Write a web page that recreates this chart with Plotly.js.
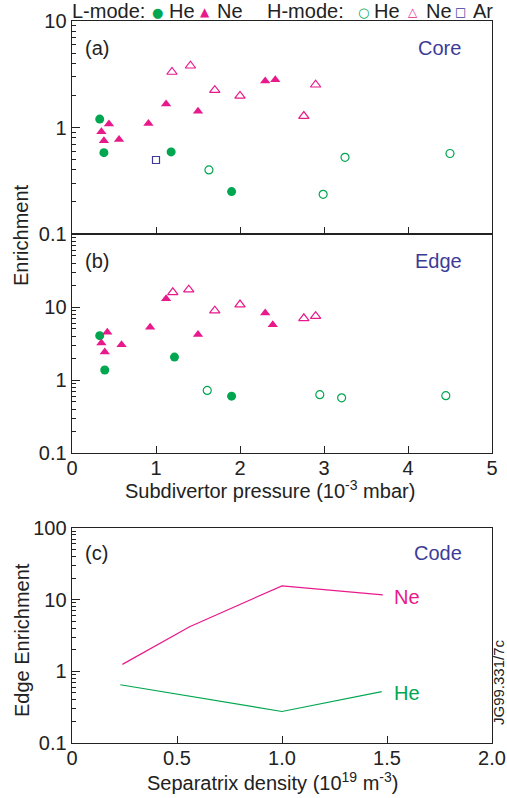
<!DOCTYPE html>
<html>
<head>
<meta charset="utf-8">
<script src="https://cdn.plot.ly/plotly-3.0.1.min.js"></script>
<style>html,body{margin:0;padding:0;background:#fff}#chart{width:507px;height:798px}</style>
</head>
<body>
<div id="chart"></div>
<script>
// ---------- DATA ----------
// Panel (a) Core enrichment vs subdivertor pressure (1e-3 mbar)
const coreLHeX = [0.33, 0.38, 1.18, 1.90];
const coreLHeY = [1.2, 0.58, 0.59, 0.25];
const coreLNeX = [0.44, 0.35, 0.38, 0.56, 0.91, 1.12, 1.50, 2.30, 2.42];
const coreLNeY = [1.08, 0.91, 0.75, 0.77, 1.09, 1.66, 1.42, 2.73, 2.81];
const coreHHeX = [1.63, 2.99, 3.25, 4.50];
const coreHHeY = [0.40, 0.236, 0.525, 0.57];
const coreHNeX = [1.19, 1.41, 1.70, 2.00, 2.76, 2.90];
const coreHNeY = [3.32, 3.8, 2.24, 1.98, 1.28, 2.52];
const coreHArX = [1.00];
const coreHArY = [0.495];

// Panel (b) Edge enrichment
const edgeLHeX = [0.33, 0.39, 1.22, 1.90];
const edgeLHeY = [4.05, 1.37, 2.06, 0.60];
const edgeLNeX = [0.42, 0.35, 0.39, 0.59, 0.93, 1.12, 1.50, 2.30, 2.39];
const edgeLNeY = [4.5, 3.2, 2.41, 3.04, 5.3, 13.0, 4.19, 8.3, 5.7];
const edgeHNeX = [1.20, 1.39, 1.70, 2.00, 2.76, 2.90];
const edgeHNeY = [15.9, 17.3, 8.9, 10.8, 7.0, 7.5];
const edgeHHeX = [1.61, 2.95, 3.21, 4.45];
const edgeHHeY = [0.72, 0.63, 0.57, 0.61];

// Panel (c) Code: edge enrichment vs separatrix density (1e19 m^-3)
const codeNeX = [0.24, 0.56, 1.00, 1.48];
const codeNeY = [1.25, 4.2, 15.6, 11.7];
const codeHeX = [0.23, 1.00, 1.475];
const codeHeY = [0.65, 0.275, 0.52];

// tick labels
const pressTicks = [0, 1, 2, 3, 4, 5];
const densTicks = [0, 0.5, 1.0, 1.5, 2.0];
const densTickText = ['0', '0.5', '1.0', '1.5', '2.0'];
const enrTicks3 = [0.1, 1, 10];
const enrTicks3Text = ['0.1', '1', '10'];
const enrTicks4 = [0.1, 1, 10, 100];
const enrTicks4Text = ['0.1', '1', '10', '100'];

// ---------- STYLE ----------
const GREEN = '#00a650';
const PINK = '#e8198b';
const BLUE = '#3c3c98';
const FRAME = '#222';
const FONT = 'Liberation Sans, Arial, sans-serif';
const W = 507, H = 798;
const px = X => X / W;
const py = Y => 1 - Y / H;

function minorVals(lo, hi) {
  const v = [];
  for (let e = lo; e < hi; e++) for (let k = 2; k <= 9; k++) v.push(k * Math.pow(10, e));
  return v;
}

const filled = (c, sym, size) => ({ color: c, symbol: sym, size: size, line: { width: 0 } });
const open = (c, sym, size) => ({ color: c, symbol: sym, size: size, line: { color: c, width: 1.2 } });

const traces = [
  // panel a
  { x: coreLHeX, y: coreLHeY, xaxis: 'x', yaxis: 'y', mode: 'markers', marker: filled(GREEN, 'circle', 9), name: 'L-mode He' },
  { x: coreLNeX, y: coreLNeY, xaxis: 'x', yaxis: 'y', mode: 'markers', marker: filled(PINK, 'triangle-up', 9), name: 'L-mode Ne' },
  { x: coreHHeX, y: coreHHeY, xaxis: 'x', yaxis: 'y', mode: 'markers', marker: open(GREEN, 'circle-open', 8), name: 'H-mode He' },
  { x: coreHNeX, y: coreHNeY, xaxis: 'x', yaxis: 'y', mode: 'markers', marker: open(PINK, 'triangle-up-open', 9), name: 'H-mode Ne' },
  { x: coreHArX, y: coreHArY, xaxis: 'x', yaxis: 'y', mode: 'markers', marker: open(BLUE, 'square-open', 7), name: 'H-mode Ar' },
  // panel b
  { x: edgeLHeX, y: edgeLHeY, xaxis: 'x2', yaxis: 'y2', mode: 'markers', marker: filled(GREEN, 'circle', 9), name: 'L-mode He' },
  { x: edgeLNeX, y: edgeLNeY, xaxis: 'x2', yaxis: 'y2', mode: 'markers', marker: filled(PINK, 'triangle-up', 9), name: 'L-mode Ne' },
  { x: edgeHHeX, y: edgeHHeY, xaxis: 'x2', yaxis: 'y2', mode: 'markers', marker: open(GREEN, 'circle-open', 8), name: 'H-mode He' },
  { x: edgeHNeX, y: edgeHNeY, xaxis: 'x2', yaxis: 'y2', mode: 'markers', marker: open(PINK, 'triangle-up-open', 9), name: 'H-mode Ne' },
  // panel c
  { x: codeNeX, y: codeNeY, xaxis: 'x3', yaxis: 'y3', mode: 'lines', line: { color: PINK, width: 1.2 }, name: 'Ne' },
  { x: codeHeX, y: codeHeY, xaxis: 'x3', yaxis: 'y3', mode: 'lines', line: { color: GREEN, width: 1.2 }, name: 'He' }
];

const xDom = [px(72), px(492)];
const baseX = {
  domain: xDom, showline: true, mirror: true, linecolor: FRAME, linewidth: 1.4,
  ticks: 'inside', ticklen: 7, tickwidth: 1, tickcolor: FRAME,
  showgrid: false, zeroline: false, ticklabelstandoff: -3,
  tickfont: { family: FONT, size: 20, color: '#222' }
};
const baseY = {
  type: 'log', showline: true, mirror: true, linecolor: FRAME, linewidth: 1.4,
  ticks: 'inside', ticklen: 8, tickwidth: 1, tickcolor: FRAME,
  showgrid: false, zeroline: false, tickmode: 'array',
  tickfont: { family: FONT, size: 20, color: '#222' }
};

const layout = {
  width: W, height: H,
  margin: { l: 0, r: 0, t: 0, b: 0 },
  paper_bgcolor: '#fff', plot_bgcolor: '#fff',
  showlegend: false,
  font: { family: FONT, size: 20, color: '#222' },
  xaxis: Object.assign({}, baseX, { anchor: 'y', range: [0, 5], tickvals: pressTicks, showticklabels: false }),
  yaxis: Object.assign({}, baseY, {
    anchor: 'x', domain: [py(234), py(21)], range: [-1, 1],
    tickvals: enrTicks3, ticktext: enrTicks3Text,
    minor: { ticks: 'inside', ticklen: 4, tickwidth: 1, tickcolor: FRAME, tickmode: 'array', tickvals: minorVals(-1, 1) }
  }),
  xaxis2: Object.assign({}, baseX, {
    anchor: 'y2', range: [0, 5], tickvals: pressTicks
  }),
  yaxis2: Object.assign({}, baseY, {
    anchor: 'x2', domain: [py(453), py(234)], range: [-1, 2],
    tickvals: enrTicks3, ticktext: enrTicks3Text,
    minor: { ticks: 'inside', ticklen: 4, tickwidth: 1, tickcolor: FRAME, tickmode: 'array', tickvals: minorVals(-1, 2) }
  }),
  xaxis3: Object.assign({}, baseX, {
    anchor: 'y3', range: [0, 2], tickvals: densTicks, ticktext: densTickText
  }),
  yaxis3: Object.assign({}, baseY, {
    anchor: 'x3', domain: [py(743), py(528)], range: [-1, 2],
    tickvals: enrTicks4, ticktext: enrTicks4Text,
    minor: { ticks: 'inside', ticklen: 4, tickwidth: 1, tickcolor: FRAME, tickmode: 'array', tickvals: minorVals(-1, 2) }
  }),
  annotations: []
};

function ann(text, X, Y, opts) {
  layout.annotations.push(Object.assign({
    text: text, xref: 'paper', yref: 'paper', x: px(X), y: py(Y),
    showarrow: false, xanchor: 'left', yanchor: 'middle',
    font: { family: FONT, size: 20, color: '#222' }
  }, opts || {}));
}
// Axis titles
ann('Subdivertor pressure (10<sup>-3</sup> mbar)', 270, 489, { xanchor: 'center' });
ann('Separatrix density (10<sup>19</sup> m<sup>-3</sup>)', 272, 781, { xanchor: 'center' });
ann('Enrichment', 21, 235, { xanchor: 'center', textangle: -90 });
ann('Edge Enrichment', 22, 640, { xanchor: 'center', textangle: -90 });
// Panel labels
ann('(a)', 83, 48);
ann('Core', 463, 48, { xanchor: 'right', font: { family: FONT, size: 20, color: BLUE } });
ann('(b)', 83, 261);
ann('Edge', 464, 261, { xanchor: 'right', font: { family: FONT, size: 20, color: BLUE } });
ann('(c)', 83, 553);
ann('Code', 464, 553, { xanchor: 'right', font: { family: FONT, size: 20, color: BLUE } });
ann('Ne', 392, 597, { font: { family: FONT, size: 20, color: PINK } });
ann('He', 392, 693, { font: { family: FONT, size: 20, color: GREEN } });
// ID stamp
ann('JG99.331/7c', 498, 682, { xanchor: 'center', textangle: -90, font: { family: FONT, size: 15, color: '#222' } });
// Legend line
ann('L-mode:', 70, 11);
ann('\u25CF', 157, 12, { xanchor: 'center', font: { family: 'DejaVu Sans', size: 13, color: GREEN } });
ann('He', 167, 11);
ann('\u25B2', 205, 12, { xanchor: 'center', font: { family: 'DejaVu Sans', size: 12, color: PINK } });
ann('Ne', 215, 11);
ann('H-mode:', 265, 11);
ann('\u25CB', 363, 12, { xanchor: 'center', font: { family: 'DejaVu Sans', size: 13, color: GREEN } });
ann('He', 372, 11);
ann('\u25B3', 413, 12, { xanchor: 'center', font: { family: 'DejaVu Sans', size: 12, color: PINK } });
ann('Ne', 424, 11);
ann('\u25A1', 460, 12, { xanchor: 'center', font: { family: 'DejaVu Sans', size: 12, color: BLUE } });
ann('Ar', 471, 11);

Plotly.newPlot('chart', traces, layout, { staticPlot: true, displayModeBar: false });
</script>
</body>
</html>
